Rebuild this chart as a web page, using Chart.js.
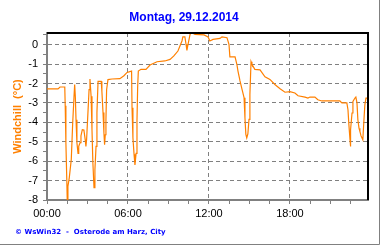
<!DOCTYPE html>
<html>
<head>
<meta charset="utf-8">
<script src="https://cdn.jsdelivr.net/npm/chart.js@4"></script>
<style>
  html, body { margin: 0; padding: 0; background: #fff; }
</style>
</head>
<body>
<canvas id="myChart" width="380" height="245"></canvas>
<script>
// Windchill readings, Montag 29.12.2014
const times = [
  '00:00','00:49','00:58','01:19','01:21','01:24','01:28','01:30','01:33','01:39',
  '01:48','01:54','02:00','02:03','02:06','02:09','02:13','02:18','02:21','02:27',
  '02:31','02:37','02:44','02:50','02:53','02:56','03:02','03:07','03:11','03:16',
  '03:20','03:24','03:29','03:33','03:38','03:42','03:47','04:01','04:04','04:09',
  '04:13','04:16','04:19','04:22','04:25','04:31','04:49','05:24','05:42','05:56',
  '06:16','06:18','06:22','06:27','06:31','06:36','06:40','06:43','06:46','06:58',
  '07:20','07:38','08:09','08:44','09:07','09:24','09:42','09:51','10:00','10:04',
  '10:13','10:18','10:22','10:27','10:36','10:44','10:58','11:38','11:56','12:04',
  '12:18','12:49','12:58','13:20','13:29','13:33','13:56','14:04','14:09','14:18',
  '14:27','14:36','14:40','14:44','14:48','14:53','14:58','15:02','15:07','15:11',
  '15:24','15:47','16:09','16:31','16:53','17:16','17:38','18:00','18:22','18:36',
  '19:07','19:20','19:29','19:51','20:04','20:22','21:42','21:51','22:13','22:18',
  '22:22','22:27','22:28','22:31','22:36','22:40','22:49','22:53','22:58','23:02',
  '23:07','23:11','23:16','23:24','23:29','23:33','23:38','23:47'
];
const windchill = [
  -2.28,-2.28,-2.18,-2.18,-3.15,-5.05,-6.96,-8.0,-7.3,-6.86,
  -5.9,-4.1,-2.7,-2.06,-2.7,-3.87,-5.05,-5.6,-5.24,-5.05,
  -4.7,-4.38,-4.4,-4.9,-5.24,-4.9,-3.5,-2.32,-1.77,-2.66,
  -4.38,-6.1,-7.37,-6.44,-5.24,-3.5,-1.89,-1.89,-2.4,-3.5,
  -4.54,-5.15,-4.64,-3.87,-2.32,-1.8,-1.77,-1.75,-1.6,-1.43,
  -1.36,-3.25,-4.8,-5.65,-6.2,-5.6,-3.9,-2.2,-1.36,-1.27,
  -1.27,-1.05,-0.88,-0.84,-0.76,-0.58,-0.33,-0.07,0.19,0.4,
  0.4,0.02,-0.3,0.02,0.53,0.62,0.53,0.5,0.4,0.19,
  0.27,0.32,0.4,0.36,0.02,-0.63,-0.63,-1.01,-1.36,-1.87,
  -2.3,-2.73,-3.76,-4.62,-4.8,-4.59,-3.85,-2.56,-0.88,-1.01,
  -1.27,-1.3,-1.66,-1.79,-2.05,-2.27,-2.45,-2.42,-2.49,-2.63,
  -2.7,-2.75,-2.7,-2.7,-2.84,-2.9,-2.9,-3.0,-3.0,-3.35,
  -4.12,-4.9,-5.24,-4.38,-3.52,-2.92,-2.75,-2.7,-3.0,-3.87,
  -4.3,-4.47,-4.7,-4.9,-3.87,-3.1,-2.75,-2.75
];
const xLabels = ['00:00', '06:00', '12:00', '18:00'];

function toMinutes(t) {
  const p = t.split(':');
  return parseInt(p[0]) * 60 + parseInt(p[1]);
}
const points = times.map((t, i) => ({x: toMinutes(t), y: windchill[i]}));
const xEnd = toMinutes(times[times.length - 1]);

const frame = {
  id: 'frame',
  afterDraw(chart) {
    const ctx = chart.ctx, a = chart.chartArea;
    ctx.save();
    ctx.strokeStyle = '#000';
    ctx.lineWidth = 2;
    ctx.beginPath();
    ctx.moveTo(a.left, a.top);
    ctx.lineTo(a.right, a.top);
    ctx.lineTo(a.right, a.bottom);
    ctx.stroke();
    // outer picture border
    ctx.strokeStyle = '#808080';
    ctx.lineWidth = 1;
    ctx.beginPath();
    ctx.moveTo(379.5, 0);
    ctx.lineTo(379.5, 244.5);
    ctx.lineTo(0, 244.5);
    ctx.stroke();
    // footer
    ctx.fillStyle = '#0000ff';
    ctx.font = 'bold 7px "DejaVu Sans"';
    ctx.textBaseline = 'alphabetic';
    ctx.fillText('\u00a9 WsWin32  -  Osterode am Harz, City', 15, 234);
    ctx.restore();
  }
};

const config = {
  type: 'line',
  data: {
    datasets: [{
      data: points,
      borderColor: '#ff8000',
      backgroundColor: '#ff8000',
      borderWidth: 1.2,
      pointRadius: 0,
      tension: 0,
      fill: false
    }]
  },
  options: {
    responsive: false,
    animation: false,
    devicePixelRatio: 1,
    layout: {padding: {left: 0, right: 12, top: 0, bottom: 0}},
    plugins: {
      legend: {display: false},
      tooltip: {enabled: false},
      title: {
        display: true,
        text: 'Montag, 29.12.2014',
        color: '#0000ff',
        font: {family: 'Liberation Sans', size: 12, weight: 'bold'},
        padding: {top: 10, bottom: 8.6}
      }
    },
    scales: {
      x: {
        type: 'linear',
        min: 0,
        max: xEnd,
        afterFit(scale) { scale.height = 45; },
        ticks: {
          stepSize: 90,
          includeBounds: false,
          autoSkip: false,
          maxRotation: 0,
          padding: 3,
          color: '#000',
          font: {family: 'Liberation Sans', size: 11},
          callback: v => (v % 360 === 0 ? xLabels[v / 360] : '')
        },
        grid: {
          color: c => (c.tick && c.tick.value % 360 === 0 && c.tick.value > 0 ? '#808080' : 'transparent'),
          tickColor: '#808080',
          tickLength: 4,
          tickWidth: 1
        },
        border: {color: '#808080', width: 2, dash: [4, 3]}
      },
      y: {
        min: -8,
        max: 0.6,
        afterFit(scale) { scale.width = 47; },
        title: {
          display: true,
          text: 'Windchill  (\u00b0C)',
          color: '#ff8000',
          font: {family: 'Liberation Sans', size: 11, weight: 'bold'},
          padding: {top: 11, bottom: 0}
        },
        ticks: {
          stepSize: 0.5,
          includeBounds: false,
          autoSkip: false,
          padding: 5,
          color: '#000',
          font: {family: 'Liberation Sans', size: 11},
          callback: v => (Number.isInteger(v) ? String(v) : '')
        },
        grid: {
          color: c => (c.tick && Number.isInteger(c.tick.value) && c.tick.value > -8 ? '#808080' : 'transparent'),
          tickColor: '#808080',
          tickLength: 4,
          tickWidth: 1
        },
        border: {color: '#808080', width: 2, dash: [4, 3]}
      }
    }
  },
  plugins: [frame]
};

const myChart = new Chart(document.getElementById('myChart'), config);
</script>
</body>
</html>
